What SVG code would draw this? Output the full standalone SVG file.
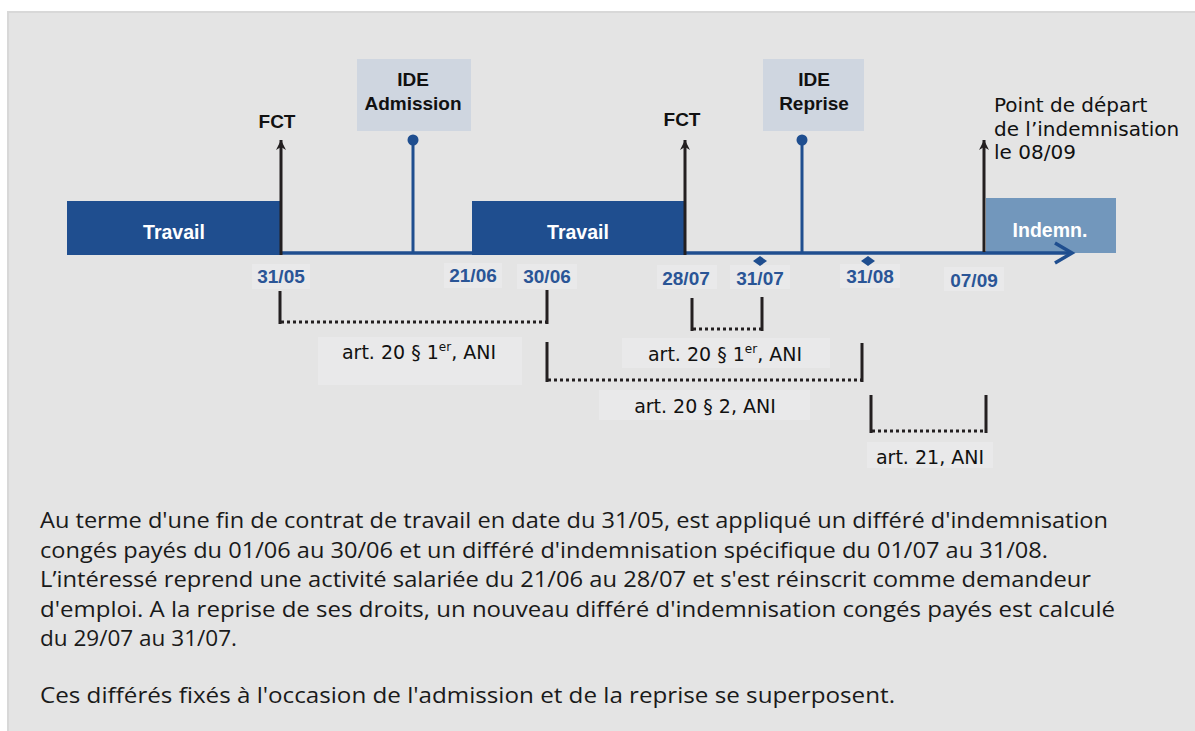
<svg xmlns="http://www.w3.org/2000/svg" width="1195" height="731" viewBox="0 0 1195 731">
  <defs>
    <marker id="tip" viewBox="-6 -11 12 13" markerWidth="12" markerHeight="13" refX="0" refY="-11" markerUnits="userSpaceOnUse" orient="0">
      <path d="M0,-11 L5,-1 L0,-4 L-5,-1 Z" fill="#231f20"/>
    </marker>
    <style>
      .bar { fill: #1f4e8f; }
      .bar-light { fill: #7297bc; }
      .bar-txt { font-family: "Liberation Sans", Arial, sans-serif; font-weight: bold; font-size: 19.5px; fill: #ffffff; text-anchor: middle; }
      .ide-box { fill: #cfd6e0; }
      .ide-txt { font-family: "Liberation Sans", Arial, sans-serif; font-weight: bold; font-size: 19px; fill: #111111; text-anchor: middle; }
      .fct { font-family: "Liberation Sans", Arial, sans-serif; font-weight: bold; font-size: 19px; fill: #111111; text-anchor: middle; }
      .date { font-family: "Liberation Sans", Arial, sans-serif; font-weight: bold; font-size: 19px; fill: #2a5596; text-anchor: middle; }
      .lbl-bg { fill: #e9e9ea; }
      .art { font-family: "DejaVu Sans", sans-serif; font-size: 19px; fill: #111111; text-anchor: middle; }
      .note { font-family: "DejaVu Sans", sans-serif; font-size: 20px; fill: #111111; }
      .para { font-family: "Open Sans", "Liberation Sans", Arial, sans-serif; font-size: 21.5px; fill: #1a1a1a; }
      .axis { stroke: #1f4e8f; stroke-width: 3.5; fill: none; }
      .stem { stroke: #1f4e8f; stroke-width: 3; }
      .dot { fill: #1f4e8f; }
      .evt { stroke: #231f20; stroke-width: 3; marker-end: url(#tip); }
      .tick { stroke: #231f20; stroke-width: 3; }
      .span { stroke: #231f20; stroke-width: 3; stroke-dasharray: 3 3; }
    </style>
  </defs>

  <!-- page and panel -->
  <rect x="0" y="0" width="1195" height="731" fill="#ffffff"/>
  <rect x="8" y="12" width="1188" height="720" fill="#e4e4e4" stroke="#d8d8d8" stroke-width="2"/>

  <!-- period bars -->
  <g id="travail-1">
    <rect class="bar" x="67" y="201" width="214" height="54"/>
    <text class="bar-txt" x="174" y="239">Travail</text>
  </g>
  <g id="travail-2">
    <rect class="bar" x="472" y="201" width="213" height="54"/>
    <text class="bar-txt" x="578" y="239">Travail</text>
  </g>
  <g id="indemnisation">
    <rect class="bar-light" x="986" y="198" width="130" height="55"/>
    <text class="bar-txt" x="1050" y="237">Indemn.</text>
  </g>

  <!-- event labels -->
  <g id="fct-1">
    <text class="fct" x="277" y="128">FCT</text>
  </g>
  <g id="fct-2">
    <text class="fct" x="682" y="126">FCT</text>
  </g>
  <g id="ide-admission">
    <rect class="ide-box" x="357" y="59" width="114" height="72"/>
    <text class="ide-txt" x="413" y="86">IDE</text>
    <text class="ide-txt" x="413" y="110">Admission</text>
  </g>
  <g id="ide-reprise">
    <rect class="ide-box" x="763" y="59" width="101" height="72"/>
    <text class="ide-txt" x="814" y="86">IDE</text>
    <text class="ide-txt" x="814" y="110">Reprise</text>
  </g>
  <g id="depart">
    <text class="note" x="994" y="112">Point de départ</text>
    <text class="note" x="994" y="136">de l’indemnisation</text>
    <text class="note" x="994" y="159">le 08/09</text>
  </g>

  <!-- dates under the axis -->
  <g id="dates">
    <rect class="lbl-bg" x="252" y="264" width="58" height="25"/>
    <text class="date" x="281" y="283">31/05</text>
    <rect class="lbl-bg" x="444" y="263" width="58" height="25"/>
    <text class="date" x="473" y="282">21/06</text>
    <rect class="lbl-bg" x="517" y="264" width="60" height="25"/>
    <text class="date" x="547" y="283">30/06</text>
    <rect class="lbl-bg" x="657" y="265" width="60" height="24"/>
    <text class="date" x="686" y="285">28/07</text>
    <rect class="lbl-bg" x="730" y="265" width="60" height="24"/>
    <text class="date" x="760" y="285">31/07</text>
    <rect class="lbl-bg" x="840" y="264" width="60" height="24"/>
    <text class="date" x="870" y="283">31/08</text>
    <rect class="lbl-bg" x="944" y="267" width="60" height="24"/>
    <text class="date" x="974" y="287">07/09</text>
  </g>

  <!-- deferral labels -->
  <g id="art20-1-admission">
    <rect class="lbl-bg" x="318" y="337" width="204" height="48"/>
    <text class="art" x="419" y="359">art. 20 § 1<tspan font-size="12" dy="-8">er</tspan><tspan dy="8">, ANI</tspan></text>
  </g>
  <g id="art20-1-reprise">
    <rect class="lbl-bg" x="622" y="338" width="208" height="30"/>
    <text class="art" x="725" y="361">art. 20 § 1<tspan font-size="12" dy="-8">er</tspan><tspan dy="8">, ANI</tspan></text>
  </g>
  <g id="art20-2">
    <rect class="lbl-bg" x="599" y="390" width="211" height="30"/>
    <text class="art" x="705" y="413">art. 20 § 2, ANI</text>
  </g>
  <g id="art21">
    <rect class="lbl-bg" x="867" y="442" width="126" height="26"/>
    <text class="art" x="930" y="464">art. 21, ANI</text>
  </g>

  <!-- connectors: axis, event markers and deferral spans -->
  <g id="connectors">
    <line class="axis" x1="279" y1="253" x2="1071" y2="253"/>
    <polyline class="axis" stroke-width="4" points="1055,243 1072,253 1055,263"/>

    <line class="evt" x1="281" y1="255" x2="281" y2="140"/>
    <line class="evt" x1="685" y1="255" x2="685" y2="140"/>
    <line class="evt" x1="984" y1="252" x2="984" y2="140"/>

    <line class="stem" x1="413" y1="253" x2="413" y2="140"/>
    <circle class="dot" cx="413" cy="140" r="5.5"/>
    <line class="stem" x1="802" y1="253" x2="802" y2="140"/>
    <circle class="dot" cx="802" cy="140" r="5.5"/>

    <path class="dot" d="M760,256 L767,261 L760,266 L753,261 Z"/>
    <path class="dot" d="M868,256 L875,261 L868,266 L861,261 Z"/>

    <line class="tick" x1="280" y1="291" x2="280" y2="324"/>
    <line class="tick" x1="547" y1="290" x2="547" y2="324"/>
    <line class="span" x1="281" y1="322" x2="547" y2="322"/>

    <line class="tick" x1="692" y1="298" x2="692" y2="331"/>
    <line class="tick" x1="762" y1="297" x2="762" y2="331"/>
    <line class="span" x1="693" y1="329" x2="762" y2="329"/>

    <line class="tick" x1="547" y1="342" x2="547" y2="382"/>
    <line class="tick" x1="862" y1="343" x2="862" y2="382"/>
    <line class="span" x1="548" y1="380" x2="862" y2="380"/>

    <line class="tick" x1="871" y1="395" x2="871" y2="433"/>
    <line class="tick" x1="986" y1="395" x2="986" y2="433"/>
    <line class="span" x1="872" y1="431" x2="986" y2="431"/>
  </g>

  <!-- explanatory paragraph -->
  <g id="explication">
    <text class="para" x="40" y="528" textLength="1068" lengthAdjust="spacingAndGlyphs">Au terme d'une fin de contrat de travail en date du 31/05, est appliqué un différé d'indemnisation</text>
    <text class="para" x="40" y="557.5" textLength="1008" lengthAdjust="spacingAndGlyphs">congés payés du 01/06 au 30/06 et un différé d'indemnisation spécifique du 01/07 au 31/08.</text>
    <text class="para" x="40" y="587" textLength="1051" lengthAdjust="spacingAndGlyphs">L’intéressé reprend une activité salariée du 21/06 au 28/07 et s'est réinscrit comme demandeur</text>
    <text class="para" x="40" y="616.5" textLength="1075" lengthAdjust="spacingAndGlyphs">d'emploi. A la reprise de ses droits, un nouveau différé d'indemnisation congés payés est calculé</text>
    <text class="para" x="40" y="646" textLength="197" lengthAdjust="spacingAndGlyphs">du 29/07 au 31/07.</text>
    <text class="para" x="40" y="703" textLength="855" lengthAdjust="spacingAndGlyphs">Ces différés fixés à l'occasion de l'admission et de la reprise se superposent.</text>
  </g>
</svg>
